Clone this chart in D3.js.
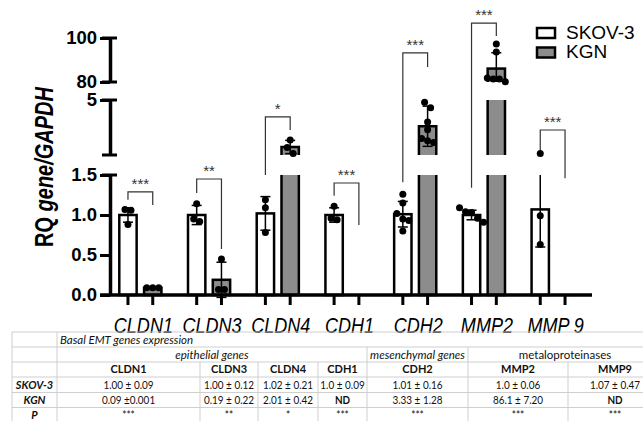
<!DOCTYPE html>
<html>
<head>
<meta charset="utf-8">
<script src="https://cdn.jsdelivr.net/npm/d3@7"></script>
<style>
body { margin: 0; background: #fff; }
svg { display: block; }
</style>
</head>
<body>
<div id="chart"></div>
<script>
const width = 643
const height = 421

// ---- data ----
const genes = ["CLDN1", "CLDN3", "CLDN4", "CDH1", "CDH2", "MMP2", "MMP9"]
const series = ["SKOV-3", "KGN"]
const geneLabels = ["CLDN1", "CLDN3", "CLDN4", "CDH1", "CDH2", "MMP2", "MMP 9"]

const skovMean = [1.00, 1.00, 1.02, 1.00, 1.01, 1.00, 1.07]
const skovSD   = [0.09, 0.12, 0.21, 0.09, 0.16, 0.06, 0.47]
const kgnMean  = [0.09, 0.19, 2.01, 0, 3.33, 86.1, 0]
const kgnSD    = [0.001, 0.22, 0.42, 0, 1.28, 7.20, 0]

const skovPoints = [
  [1.07, 1.06, 0.88],
  [1.14, 0.95, 0.92],
  [1.19, 1.09, 0.78],
  [1.11, 0.96, 0.94],
  [1.26, 1.15, 1.02, 0.95, 0.93, 0.80],
  [1.09, 1.04, 1.03, 0.96, 0.91],
  [1.60, 0.99, 0.63]
]
const kgnPoints = [
  [0.09, 0.09, 0.09],
  [0.45, 0.07, 0.07],
  [2.45, 1.98, 1.60],
  [0, 0, 0, 0, 0],
  [4.85, 4.5, 3.6, 3.1, 2.55, 2.4, 2.3],
  [97.3, 93.6, 81.8, 81.4, 81.4, 80.1],
  [0, 0, 0, 0, 0]
]

// significance brackets (values in axis units)
const stars = ["***", "**", "*", "***", "***", "***", "***"]
const bracketTop   = [1.29, 1.45, 3.92, 1.40, 93.2, 106.8, 3.09]
const bracketLeft  = [1.19, 1.275, 1.5, 1.24, 1.41, 1.34, 1.82]
const bracketRight = [1.125, 0.575, 3.09, 0.875, 86.8, 100.9, 1.46]

// broken y axis
const lowTicks = [0, 0.5, 1.0, 1.5]
const midTicks = [5]
const highTicks = [80, 100]

// table
const tableTitle = "Basal EMT genes expression"
const groupLabels = ["epithelial genes", "mesenchymal genes", "metaloproteinases"]
const groupSpans = [[0, 3], [4, 4], [5, 6]]
const groupItalic = [true, true, false]
const tableHeaders = ["CLDN1", "CLDN3", "CLDN4", "CDH1", "CDH2", "MMP2", "MMP9"]
const rowLabels = ["SKOV-3", "KGN", "P"]
const skovText = ["1.00 ± 0.09", "1.00 ± 0.12", "1.02 ± 0.21", "1.0 ± 0.09", "1.01 ± 0.16", "1.0 ± 0.06", "1.07 ± 0.47"]
const kgnText  = ["0.09 ±0.001", "0.19 ± 0.22", "2.01 ± 0.42", "ND", "3.33 ± 1.28", "86.1 ± 7.20", "ND"]
const pText    = ["***", "**", "*", "***", "***", "***", "***"]

// ---- layout ----
const axisX = 110
const baseY = 295
const font = "'Liberation Sans', Arial, sans-serif"
const kgnFill = "#8c8c8c"

const svg = d3.select("#chart").append("svg").attr("width", width).attr("height", height)
  .style("font-family", font)
const defs = svg.append("defs")

const x = d3.scaleBand().domain(genes).range([106, 587])
const sub = d3.scaleBand().domain(series)
  .range([x.bandwidth() / 2 - 28.5, x.bandwidth() / 2 + 28.5]).padding(0.3)
const cx = (g, s) => x(g) + sub(s) + sub.bandwidth() / 2

const segs = [
  {y: d3.scaleLinear().domain([0, 1.5]).range([baseY, 175]), ticks: lowTicks, fmt: d3.format(".1f")},
  {y: d3.scaleLinear().domain([1.5, 5]).range([155, 100]), ticks: midTicks, fmt: d3.format("d")},
  {y: d3.scaleLinear().domain([80, 100]).range([82, 38]), ticks: highTicks, fmt: d3.format("d")}
]
function yAny(v) {
  if (v <= 1.5) return segs[0].y(v)
  if (v <= 5) return segs[1].y(v)
  return segs[2].y(v)
}

// one record per bar
const bars = []
genes.forEach((g, i) => {
  bars.push({gene: g, s: "SKOV-3", mean: skovMean[i], sd: skovSD[i], pts: skovPoints[i]})
  bars.push({gene: g, s: "KGN", mean: kgnMean[i], sd: kgnSD[i], pts: kgnPoints[i]})
})

// bars + error bars, drawn once per axis segment and clipped
segs.forEach((seg, i) => {
  const r = seg.y.range()
  const bottom = i === 0 ? r[0] + 4 : r[0]
  defs.append("clipPath").attr("id", "clip" + i).append("rect")
    .attr("x", 0).attr("width", width).attr("y", r[1]).attr("height", bottom - r[1])
  const g = svg.append("g").attr("clip-path", `url(#clip${i})`)
  const shown = bars.filter(d => d.mean > seg.y.domain()[0])

  g.selectAll("rect").data(shown).join("rect")
    .attr("x", d => x(d.gene) + sub(d.s))
    .attr("width", sub.bandwidth())
    .attr("y", d => seg.y(d.mean))
    .attr("height", d => seg.y(0) - seg.y(d.mean))
    .attr("fill", d => d.s === "KGN" ? kgnFill : "#fff")
    .attr("stroke", "#000").attr("stroke-width", 2.5)

  const eb = g.selectAll("g.err").data(shown.filter(d => d.sd > 0)).join("g").attr("class", "err")
    .attr("stroke", "#000").attr("stroke-width", 1.5)
  eb.append("line")
    .attr("x1", d => cx(d.gene, d.s)).attr("x2", d => cx(d.gene, d.s))
    .attr("y1", d => seg.y(d.mean - d.sd)).attr("y2", d => seg.y(d.mean + d.sd))
  eb.selectAll("line.cap").data(d => [d.mean - d.sd, d.mean + d.sd].map(v => ({d, v}))).join("line")
    .attr("class", "cap")
    .attr("x1", e => cx(e.d.gene, e.d.s) - 5).attr("x2", e => cx(e.d.gene, e.d.s) + 5)
    .attr("y1", e => seg.y(e.v)).attr("y2", e => seg.y(e.v))
})

// scatter points: rows of near-equal values are spread sideways
bars.forEach(b => {
  const nd = b.mean === 0
  const step = nd ? 3.5 : 6
  const ys = b.pts.map(v => yAny(v)).sort((a, c) => a - c)
  const rows = []
  ys.forEach(y => {
    const last = rows[rows.length - 1]
    if (last && y - last[last.length - 1] < 6) last.push(y)
    else rows.push([y])
  })
  const placed = []
  rows.forEach(row => row.forEach((y, k) => placed.push({x: cx(b.gene, b.s) + (k - (row.length - 1) / 2) * step, y})))
  svg.append("g").selectAll("circle").data(placed).join("circle")
    .attr("cx", d => d.x).attr("cy", d => d.y)
    .attr("r", nd ? 1.2 : 3.5)
    .attr("fill", nd ? "#888" : "#000")
})

// y axis pieces
segs.forEach(seg => {
  const r = seg.y.range()
  const ax = svg.append("g").attr("transform", `translate(${axisX},0)`)
    .call(d3.axisLeft(seg.y).tickValues(seg.ticks).tickFormat(seg.fmt).tickSize(10).tickSizeOuter(0).tickPadding(3))
  ax.select(".domain").attr("stroke-width", 3.5)
  ax.selectAll(".tick line").attr("stroke-width", 3)
  ax.selectAll(".tick text").attr("font-size", 18.5).attr("font-weight", "bold").attr("font-family", font).attr("fill", "#000")
  // break caps at both ends of each piece
  ax.selectAll("line.capend").data(r.filter(v => v !== baseY)).join("line")
    .attr("x1", -8).attr("x2", 7).attr("y1", d => d).attr("y2", d => d)
    .attr("stroke", "#000").attr("stroke-width", 3)
})

// x axis
svg.append("line").attr("x1", axisX - 10).attr("x2", 592).attr("y1", baseY).attr("y2", baseY)
  .attr("stroke", "#000").attr("stroke-width", 3.5)
svg.append("g").selectAll("line").data(bars).join("line")
  .attr("x1", d => cx(d.gene, d.s)).attr("x2", d => cx(d.gene, d.s))
  .attr("y1", baseY).attr("y2", baseY + 10)
  .attr("stroke", "#000").attr("stroke-width", 3)
svg.append("g").selectAll("text").data(genes).join("text")
  .attr("transform", d => `translate(${x(d) + x.bandwidth() / 2 + 3},333) scale(0.84,1)`)
  .attr("text-anchor", "middle")
  .attr("font-size", 21.5).attr("font-style", "italic")
  .text((d, i) => geneLabels[i])

// y title
const title = svg.append("text")
  .attr("transform", "translate(53,167) rotate(-90) scale(0.8,1)")
  .attr("text-anchor", "middle").attr("font-size", 25).attr("font-weight", "bold")
title.append("tspan").text("RQ ")
title.append("tspan").attr("font-style", "italic").text("gene/GAPDH")

// significance brackets
const br = svg.append("g").attr("stroke", "#333").attr("stroke-width", 1.2).attr("fill", "none")
genes.forEach((g, i) => {
  const x1 = cx(g, "SKOV-3"), x2 = cx(g, "KGN"), top = yAny(bracketTop[i])
  br.append("path").attr("d", `M${x1},${yAny(bracketLeft[i])}V${top}H${x2}V${yAny(bracketRight[i])}`)
  svg.append("text").attr("x", (x1 + x2) / 2).attr("y", top - 3)
    .attr("text-anchor", "middle").attr("font-size", 15).attr("fill", "#333")
    .text(stars[i])
})

// legend
const legend = svg.append("g").selectAll("g").data(series).join("g")
  .attr("transform", (d, i) => `translate(537,${28 + i * 19.5})`)
legend.append("rect").attr("width", 18).attr("height", 10)
  .attr("fill", d => d === "KGN" ? kgnFill : "#fff").attr("stroke", "#000").attr("stroke-width", 2.5)
legend.append("text").attr("x", 29).attr("y", 10.5).attr("font-size", 19).text(d => d)

// ---- table ----
const colEdges = [12, 57, 200, 258, 318, 367, 468, 568, 662]
const rowEdges = [332, 347, 362, 377, 392.5, 407.5, 422]
const tfont = "Lato, 'Open Sans', sans-serif"
const grid = "#cfcfcf"
const tbl = svg.append("g").style("font-family", tfont).attr("fill", "#111")
const colMid = i => (colEdges[i + 1] + colEdges[i + 2]) / 2
const rowMid = r => (rowEdges[r] + rowEdges[r + 1]) / 2

tbl.selectAll("line.h").data(rowEdges).join("line").attr("class", "h")
  .attr("x1", colEdges[0]).attr("x2", colEdges[colEdges.length - 1])
  .attr("y1", d => d).attr("y2", d => d).attr("stroke", grid)
tbl.selectAll("line.v0").data(colEdges.slice(0, 2)).join("line").attr("class", "v0")
  .attr("x1", d => d).attr("x2", d => d).attr("y1", rowEdges[0]).attr("y2", rowEdges[6]).attr("stroke", grid)
tbl.selectAll("line.vg").data(groupSpans.slice(0, -1)).join("line").attr("class", "vg")
  .attr("x1", d => colEdges[d[1] + 2]).attr("x2", d => colEdges[d[1] + 2])
  .attr("y1", rowEdges[1]).attr("y2", rowEdges[2]).attr("stroke", grid)
tbl.selectAll("line.vc").data(colEdges.slice(2, -1)).join("line").attr("class", "vc")
  .attr("x1", d => d).attr("x2", d => d).attr("y1", rowEdges[2]).attr("y2", rowEdges[6]).attr("stroke", grid)

tbl.append("text").attr("x", colEdges[1] + 3).attr("y", rowMid(0)).attr("dy", "0.35em")
  .attr("font-size", 11.5).attr("font-style", "italic").text(tableTitle)
tbl.selectAll("text.grp").data(groupLabels).join("text").attr("class", "grp")
  .attr("x", (d, i) => (colEdges[groupSpans[i][0] + 1] + colEdges[groupSpans[i][1] + 2]) / 2)
  .attr("y", rowMid(1)).attr("dy", "0.35em").attr("text-anchor", "middle")
  .attr("font-size", 11.5)
  .attr("font-style", (d, i) => groupItalic[i] ? "italic" : "normal").text(d => d)

const cells = [tableHeaders, skovText, kgnText, pText]
cells.forEach((row, r) => {
  tbl.append("g").selectAll("text").data(row).join("text")
    .attr("transform", (d, i) => `translate(${colMid(i)},${rowMid(r + 2)}) scale(${r === 0 ? 1 : 0.92},1)`)
    .attr("dy", "0.35em")
    .attr("text-anchor", "middle")
    .attr("font-size", r === 0 ? 11 : 10.8)
    .attr("font-weight", d => r === 0 || d === "ND" ? "bold" : "normal")
    .text(d => d)
})
tbl.append("g").selectAll("text").data(rowLabels).join("text")
  .attr("x", (colEdges[0] + colEdges[1]) / 2).attr("y", (d, i) => rowMid(i + 3)).attr("dy", "0.35em")
  .attr("text-anchor", "middle").attr("font-size", 11).attr("font-weight", "bold").attr("font-style", "italic")
  .text(d => d)
</script>
</body>
</html>
